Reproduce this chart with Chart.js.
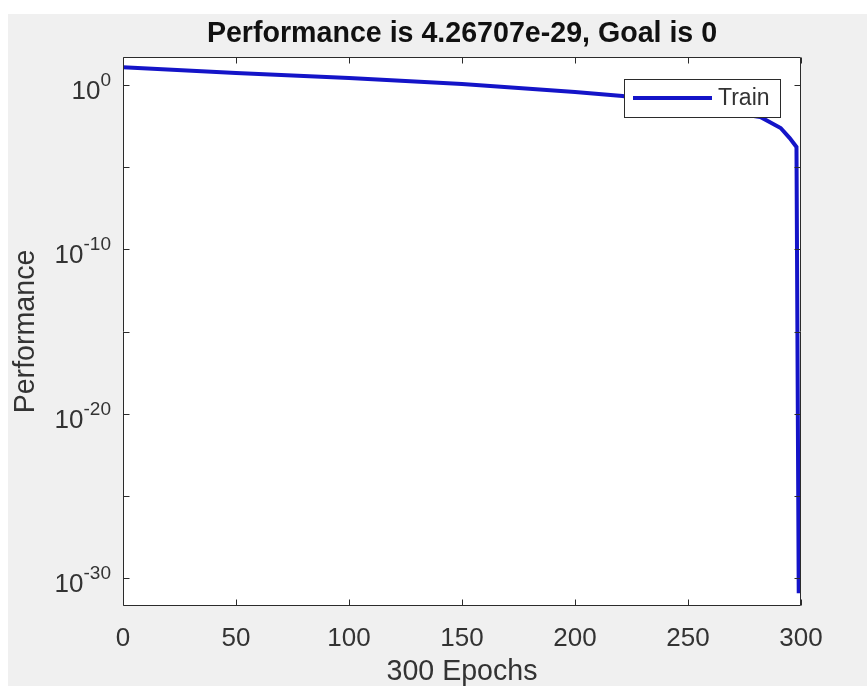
<!DOCTYPE html>
<html><head><meta charset="utf-8">
<script src="https://cdn.jsdelivr.net/npm/chart.js@4.4.1/dist/chart.umd.min.js"></script>
<style>html,body{margin:0;padding:0;background:#fff;} canvas{display:block;}</style>
</head><body>
<canvas id="c" width="867" height="686"></canvas>
<script>
// ---- data ----
const epochs = [0, 50, 100, 150, 200, 221, 282, 291, 295, 298, 299, 300];
const trainPerf = [11.8, 5.3, 2.64, 1.14, 0.372, 0.212, 0.0112, 2.4e-3, 5.9e-4, 1.67e-4, 1.2e-31, 4.26707e-29];
const xTickValues = [0, 50, 100, 150, 200, 250, 300];
const yTickExponents = [0, -5, -10, -15, -20, -25, -30];
const yLabelExponents = [0, -10, -20, -30];
const titleText = 'Performance is 4.26707e-29, Goal is 0';
const xTitle = '300 Epochs';
const yTitle = 'Performance';
const seriesName = 'Train';

const FONT = "'Liberation Sans', Arial, Helvetica, sans-serif";
const TEXT = '#333333';
const LINE = '#1414c8';

const bgPlugin = {
  id: 'bg',
  beforeDraw(chart) {
    const {ctx, chartArea: a, width, height} = chart;
    ctx.save();
    ctx.fillStyle = '#ffffff';
    ctx.fillRect(0, 0, width, height);
    ctx.fillStyle = '#f0f0f0';
    ctx.fillRect(8, 14, width - 8, height - 14);
    ctx.fillStyle = '#ffffff';
    ctx.fillRect(a.left, a.top, a.right - a.left, a.bottom - a.top);
    ctx.restore();
  }
};

const framePlugin = {
  id: 'frame',
  afterDraw(chart) {
    const {ctx, chartArea: a} = chart;
    const xs = chart.scales.x, ys = chart.scales.y;
    const L = Math.round(a.left) + 0.5, R = Math.round(a.right) - 0.5;
    const T = Math.round(a.top) + 0.5, B = Math.round(a.bottom) - 0.5;
    ctx.save();
    ctx.strokeStyle = '#2b2b2b';
    ctx.lineWidth = 1;
    ctx.beginPath();
    ctx.rect(L, T, R - L, B - T);
    const tl = 6;
    xTickValues.forEach(v => {
      const px = Math.round(xs.getPixelForValue(v)) + 0.5;
      ctx.moveTo(px, B); ctx.lineTo(px, B - tl);
      ctx.moveTo(px, T); ctx.lineTo(px, T + tl);
    });
    yTickExponents.forEach(e => {
      const py = Math.round(ys.getPixelForValue(Math.pow(10, e))) + 0.5;
      ctx.moveTo(L, py); ctx.lineTo(L + tl, py);
      ctx.moveTo(R, py); ctx.lineTo(R - tl, py);
    });
    ctx.stroke();

    // y tick labels with superscript exponents
    ctx.fillStyle = TEXT;
    ctx.textBaseline = 'alphabetic';
    ctx.textAlign = 'left';
    const right = a.left - 12;
    yLabelExponents.forEach(e => {
      const py = ys.getPixelForValue(Math.pow(10, e));
      const sup = String(e);
      ctx.font = '19px ' + FONT;
      const ws = ctx.measureText(sup).width;
      ctx.font = '26px ' + FONT;
      const wb = ctx.measureText('10').width;
      ctx.fillText('10', right - ws - wb, py + 14);
      ctx.font = '19px ' + FONT;
      ctx.fillText(sup, right - ws, py + 1);
    });

    // legend (northeast, inside axes)
    const ds = chart.data.datasets[0];
    const bx = a.right - 21 - 156, by = a.top + 22, bw = 156, bh = 38;
    ctx.fillStyle = '#ffffff';
    ctx.fillRect(bx, by, bw, bh);
    ctx.strokeStyle = '#2b2b2b';
    ctx.lineWidth = 1;
    ctx.strokeRect(Math.round(bx) + 0.5, Math.round(by) + 0.5, bw, bh);
    const my = by + bh / 2;
    ctx.strokeStyle = ds.borderColor;
    ctx.lineWidth = 4;
    ctx.beginPath();
    ctx.moveTo(bx + 9, my); ctx.lineTo(bx + 88, my);
    ctx.stroke();
    ctx.fillStyle = TEXT;
    ctx.font = '23px ' + FONT;
    ctx.textBaseline = 'middle';
    ctx.fillText(ds.label, bx + 94, my + 1);
    ctx.restore();
  }
};

new Chart(document.getElementById('c'), {
  type: 'line',
  data: {
    datasets: [{
      label: seriesName,
      data: epochs.map((x, i) => ({x: x, y: trainPerf[i]})),
      borderColor: LINE,
      backgroundColor: LINE,
      borderWidth: 4,
      pointRadius: 0,
      tension: 0,
      fill: false
    }]
  },
  options: {
    responsive: false,
    animation: false,
    devicePixelRatio: 1,
    layout: {padding: {top: 0, right: 66, bottom: 0, left: 0}},
    plugins: {
      legend: {display: false},
      tooltip: {enabled: false},
      title: {
        display: true,
        text: titleText,
        fullSize: false,
        color: '#111111',
        font: {family: FONT, size: 28.6, weight: 'bold', lineHeight: 1.2},
        padding: {top: 17, bottom: 5.7}
      }
    },
    scales: {
      x: {
        type: 'linear',
        min: 0, max: 300,
        grid: {display: false},
        border: {display: false},
        afterBuildTicks(s) { s.ticks = xTickValues.map(v => ({value: v})); },
        afterFit(s) { s.height = 80; },
        ticks: {
          autoSkip: false,
          maxRotation: 0,
          padding: 9,
          color: TEXT,
          font: {family: FONT, size: 26, lineHeight: 1.2}
        },
        title: {
          display: true,
          text: xTitle,
          color: TEXT,
          font: {family: FONT, size: 28.6, lineHeight: 1},
          padding: {top: 0, bottom: 0}
        }
      },
      y: {
        type: 'logarithmic',
        min: Math.pow(10, -31.7),
        max: Math.pow(10, 1.7),
        grid: {display: false},
        border: {display: false},
        afterBuildTicks(s) { s.ticks = yTickExponents.map(e => ({value: Math.pow(10, e)})); },
        afterFit(s) { s.width = 123; },
        ticks: {display: false, autoSkip: false},
        title: {
          display: true,
          text: yTitle,
          color: TEXT,
          font: {family: FONT, size: 28.6, lineHeight: 1},
          padding: {top: 12, bottom: 0}
        }
      }
    }
  },
  plugins: [bgPlugin, framePlugin]
});
</script>
</body></html>
